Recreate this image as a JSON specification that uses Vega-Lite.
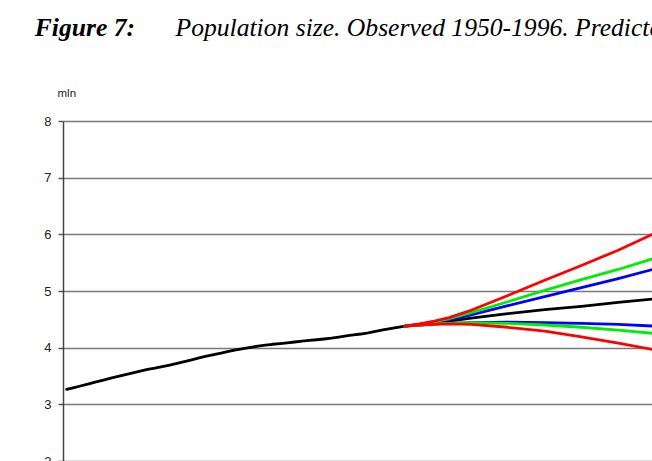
{
  "$schema": "https://vega.github.io/schema/vega-lite/v6.json",
  "width": 589,
  "height": 340,
  "autosize": "none",
  "padding": {"left": 63, "top": 121, "right": 0, "bottom": 0},
  "title": {
    "text": "Figure 7:",
    "subtitle": "\u200b\u00a0\u00a0\u00a0\u00a0\u00a0\u00a0\u00a0\u00a0\u00a0\u00a0\u00a0\u00a0\u00a0\u00a0\u00a0\u00a0\u00a0\u00a0\u00a0\u00a0\u00a0\u00a0Population size. Observed 1950-1996. Predicted 1997-2050.",
    "anchor": "start",
    "dx": -9,
    "dy": 15,
    "font": "Liberation Serif",
    "fontSize": 25.6,
    "fontStyle": "italic",
    "fontWeight": "bold",
    "color": "#000000",
    "subtitleFont": "Liberation Serif",
    "subtitleFontSize": 25.6,
    "subtitleFontStyle": "italic",
    "subtitleFontWeight": "normal",
    "subtitleColor": "#000000",
    "subtitlePadding": -26,
    "offset": 60
  },
  "data": {
    "values": [
      {"year": 1950, "value": 3.265, "series": "Observed"},
      {"year": 1951, "value": 3.296, "series": "Observed"},
      {"year": 1952, "value": 3.328, "series": "Observed"},
      {"year": 1953, "value": 3.362, "series": "Observed"},
      {"year": 1954, "value": 3.395, "series": "Observed"},
      {"year": 1955, "value": 3.429, "series": "Observed"},
      {"year": 1956, "value": 3.462, "series": "Observed"},
      {"year": 1957, "value": 3.494, "series": "Observed"},
      {"year": 1958, "value": 3.525, "series": "Observed"},
      {"year": 1959, "value": 3.556, "series": "Observed"},
      {"year": 1960, "value": 3.585, "series": "Observed"},
      {"year": 1961, "value": 3.615, "series": "Observed"},
      {"year": 1962, "value": 3.639, "series": "Observed"},
      {"year": 1963, "value": 3.667, "series": "Observed"},
      {"year": 1964, "value": 3.694, "series": "Observed"},
      {"year": 1965, "value": 3.723, "series": "Observed"},
      {"year": 1966, "value": 3.753, "series": "Observed"},
      {"year": 1967, "value": 3.785, "series": "Observed"},
      {"year": 1968, "value": 3.819, "series": "Observed"},
      {"year": 1969, "value": 3.851, "series": "Observed"},
      {"year": 1970, "value": 3.879, "series": "Observed"},
      {"year": 1971, "value": 3.903, "series": "Observed"},
      {"year": 1972, "value": 3.933, "series": "Observed"},
      {"year": 1973, "value": 3.961, "series": "Observed"},
      {"year": 1974, "value": 3.985, "series": "Observed"},
      {"year": 1975, "value": 4.007, "series": "Observed"},
      {"year": 1976, "value": 4.026, "series": "Observed"},
      {"year": 1977, "value": 4.043, "series": "Observed"},
      {"year": 1978, "value": 4.060, "series": "Observed"},
      {"year": 1979, "value": 4.073, "series": "Observed"},
      {"year": 1980, "value": 4.086, "series": "Observed"},
      {"year": 1981, "value": 4.100, "series": "Observed"},
      {"year": 1982, "value": 4.115, "series": "Observed"},
      {"year": 1983, "value": 4.128, "series": "Observed"},
      {"year": 1984, "value": 4.140, "series": "Observed"},
      {"year": 1985, "value": 4.153, "series": "Observed"},
      {"year": 1986, "value": 4.167, "series": "Observed"},
      {"year": 1987, "value": 4.187, "series": "Observed"},
      {"year": 1988, "value": 4.209, "series": "Observed"},
      {"year": 1989, "value": 4.227, "series": "Observed"},
      {"year": 1990, "value": 4.241, "series": "Observed"},
      {"year": 1991, "value": 4.262, "series": "Observed"},
      {"year": 1992, "value": 4.286, "series": "Observed"},
      {"year": 1993, "value": 4.312, "series": "Observed"},
      {"year": 1994, "value": 4.337, "series": "Observed"},
      {"year": 1995, "value": 4.359, "series": "Observed"},
      {"year": 1996, "value": 4.381, "series": "Observed"},

      {"year": 1996, "value": 4.38, "series": "Middle"},
      {"year": 1998, "value": 4.41, "series": "Middle"},
      {"year": 2000, "value": 4.44, "series": "Middle"},
      {"year": 2002, "value": 4.47, "series": "Middle"},
      {"year": 2005, "value": 4.52, "series": "Middle"},
      {"year": 2010, "value": 4.60, "series": "Middle"},
      {"year": 2015, "value": 4.67, "series": "Middle"},
      {"year": 2020, "value": 4.73, "series": "Middle"},
      {"year": 2025, "value": 4.80, "series": "Middle"},
      {"year": 2030, "value": 4.86, "series": "Middle"},

      {"year": 1996, "value": 4.38, "series": "Blue high"},
      {"year": 1998, "value": 4.41, "series": "Blue high"},
      {"year": 2000, "value": 4.45, "series": "Blue high"},
      {"year": 2002, "value": 4.49, "series": "Blue high"},
      {"year": 2005, "value": 4.58, "series": "Blue high"},
      {"year": 2010, "value": 4.74, "series": "Blue high"},
      {"year": 2015, "value": 4.90, "series": "Blue high"},
      {"year": 2020, "value": 5.06, "series": "Blue high"},
      {"year": 2025, "value": 5.22, "series": "Blue high"},
      {"year": 2030, "value": 5.39, "series": "Blue high"},

      {"year": 1996, "value": 4.38, "series": "Blue low"},
      {"year": 1998, "value": 4.40, "series": "Blue low"},
      {"year": 2000, "value": 4.42, "series": "Blue low"},
      {"year": 2002, "value": 4.43, "series": "Blue low"},
      {"year": 2005, "value": 4.44, "series": "Blue low"},
      {"year": 2010, "value": 4.45, "series": "Blue low"},
      {"year": 2015, "value": 4.44, "series": "Blue low"},
      {"year": 2020, "value": 4.43, "series": "Blue low"},
      {"year": 2025, "value": 4.41, "series": "Blue low"},
      {"year": 2030, "value": 4.38, "series": "Blue low"},

      {"year": 1996, "value": 4.38, "series": "Green high"},
      {"year": 1998, "value": 4.41, "series": "Green high"},
      {"year": 2000, "value": 4.46, "series": "Green high"},
      {"year": 2002, "value": 4.51, "series": "Green high"},
      {"year": 2005, "value": 4.62, "series": "Green high"},
      {"year": 2010, "value": 4.81, "series": "Green high"},
      {"year": 2015, "value": 5.01, "series": "Green high"},
      {"year": 2020, "value": 5.20, "series": "Green high"},
      {"year": 2025, "value": 5.38, "series": "Green high"},
      {"year": 2030, "value": 5.58, "series": "Green high"},

      {"year": 1996, "value": 4.38, "series": "Green low"},
      {"year": 1998, "value": 4.40, "series": "Green low"},
      {"year": 2000, "value": 4.42, "series": "Green low"},
      {"year": 2002, "value": 4.43, "series": "Green low"},
      {"year": 2005, "value": 4.44, "series": "Green low"},
      {"year": 2010, "value": 4.43, "series": "Green low"},
      {"year": 2015, "value": 4.40, "series": "Green low"},
      {"year": 2020, "value": 4.36, "series": "Green low"},
      {"year": 2025, "value": 4.31, "series": "Green low"},
      {"year": 2030, "value": 4.25, "series": "Green low"},

      {"year": 1996, "value": 4.38, "series": "Red high"},
      {"year": 1998, "value": 4.42, "series": "Red high"},
      {"year": 2000, "value": 4.47, "series": "Red high"},
      {"year": 2002, "value": 4.53, "series": "Red high"},
      {"year": 2005, "value": 4.66, "series": "Red high"},
      {"year": 2010, "value": 4.92, "series": "Red high"},
      {"year": 2015, "value": 5.19, "series": "Red high"},
      {"year": 2020, "value": 5.45, "series": "Red high"},
      {"year": 2025, "value": 5.72, "series": "Red high"},
      {"year": 2030, "value": 6.02, "series": "Red high"},

      {"year": 1996, "value": 4.38, "series": "Red low"},
      {"year": 1998, "value": 4.40, "series": "Red low"},
      {"year": 2000, "value": 4.41, "series": "Red low"},
      {"year": 2002, "value": 4.42, "series": "Red low"},
      {"year": 2005, "value": 4.41, "series": "Red low"},
      {"year": 2010, "value": 4.36, "series": "Red low"},
      {"year": 2015, "value": 4.29, "series": "Red low"},
      {"year": 2020, "value": 4.19, "series": "Red low"},
      {"year": 2025, "value": 4.08, "series": "Red low"},
      {"year": 2030, "value": 3.96, "series": "Red low"}
    ]
  },
  "mark": {"type": "line", "strokeWidth": 2.8, "strokeJoin": "round", "strokeCap": "round"},
  "encoding": {
    "x": {
      "field": "year",
      "type": "quantitative",
      "scale": {"domain": [1949.5, 2029.6], "nice": false, "zero": false},
      "axis": null
    },
    "y": {
      "field": "value",
      "type": "quantitative",
      "scale": {"domain": [2, 8], "nice": false, "zero": false},
      "axis": {
        "values": [2, 3, 4, 5, 6, 7, 8],
        "format": "d",
        "title": "mln",
        "titleAngle": 0,
        "titleAlign": "left",
        "titleBaseline": "middle",
        "titleX": -6,
        "titleY": -28,
        "titleFont": "Liberation Sans",
        "titleFontSize": 11.5,
        "titleFontWeight": "normal",
        "titleColor": "#222222",
        "labelFont": "Liberation Sans",
        "labelFontSize": 13,
        "labelColor": "#222222",
        "labelPadding": 7,
        "tickSize": 5,
        "tickColor": "#555555",
        "tickWidth": 1.5,
        "domainColor": "#444444",
        "domainWidth": 1.5,
        "grid": true,
        "gridColor": "#7a7a7a",
        "gridWidth": 1.5
      }
    },
    "color": {
      "field": "series",
      "type": "nominal",
      "scale": {
        "domain": ["Observed", "Middle", "Blue high", "Blue low", "Green high", "Green low", "Red high", "Red low"],
        "range": ["#000000", "#000000", "#0000ff", "#0000ff", "#00ee00", "#00ee00", "#ff0000", "#ff0000"]
      },
      "legend": null
    }
  },
  "config": {"view": {"stroke": null}}
}
